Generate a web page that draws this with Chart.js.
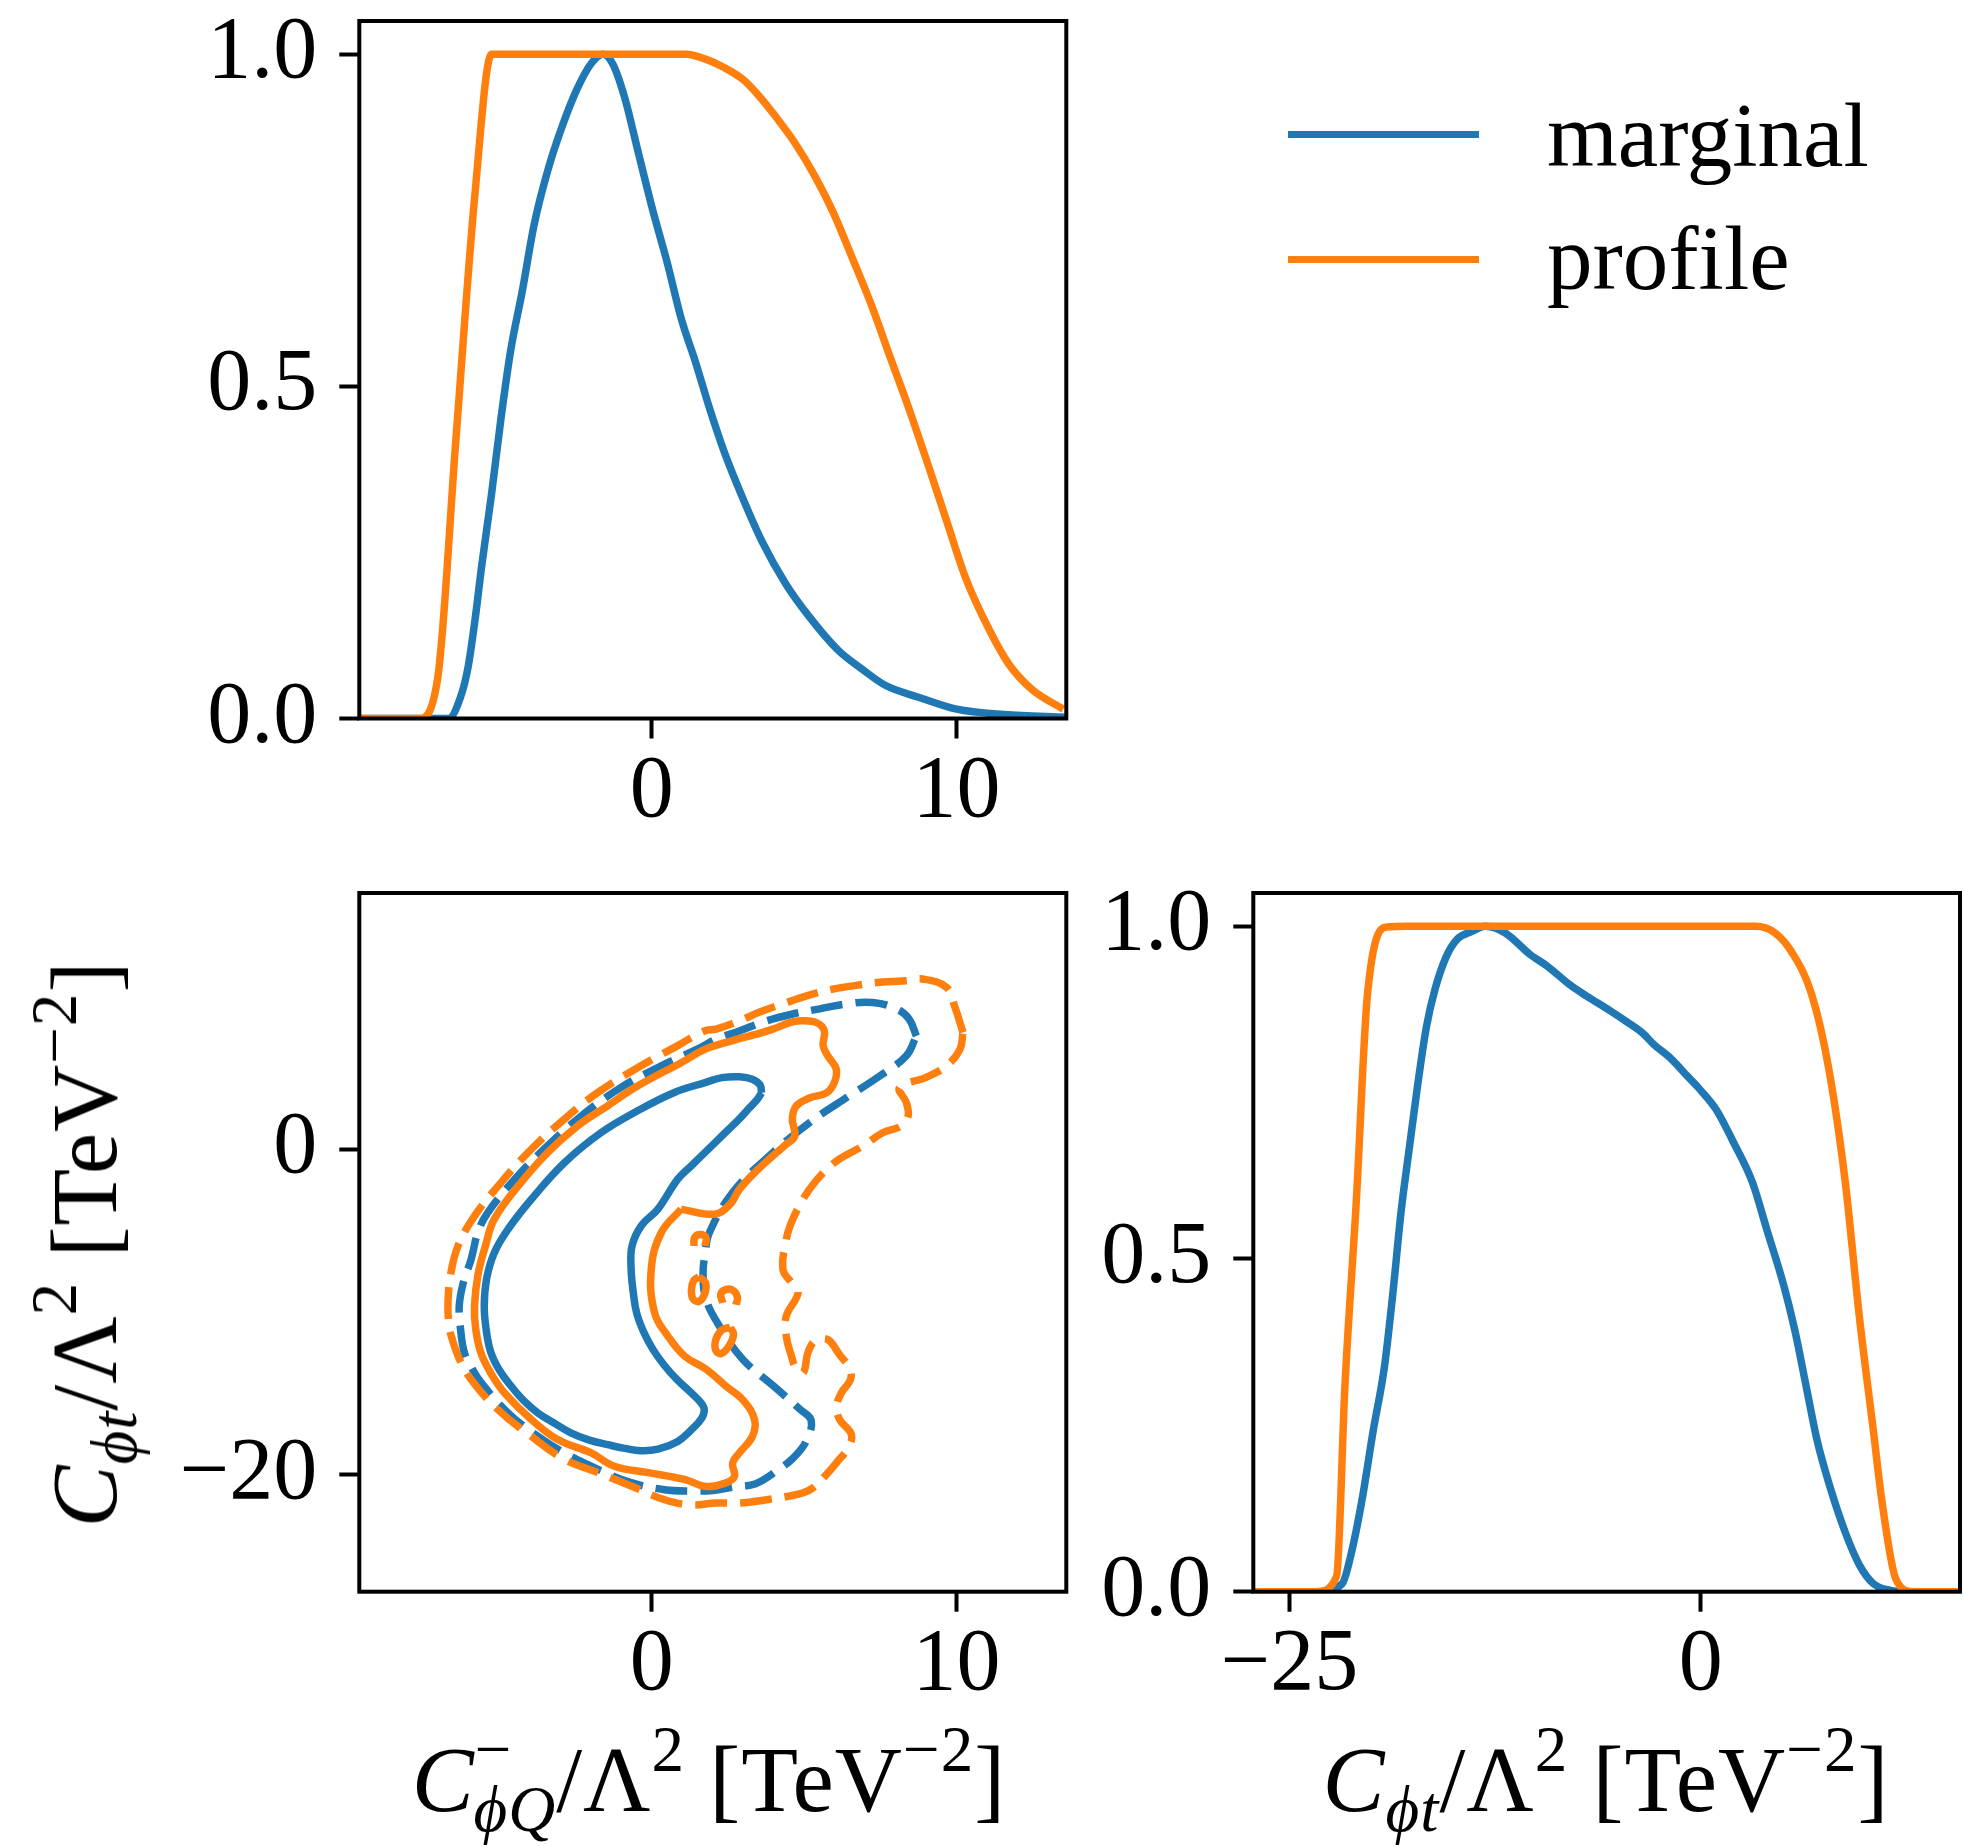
<!DOCTYPE html>
<html>
<head>
<meta charset="utf-8">
<title>marginal vs profile</title>
<script src="https://cdn.jsdelivr.net/npm/chart.js@4.4.1/dist/chart.umd.min.js"></script>
<style>
  html, body { margin: 0; padding: 0; background: #fff; }
  body { width: 1964px; height: 1848px; position: relative; overflow: hidden;
         font-family: "Liberation Serif", "DejaVu Serif", serif; color: #000; }
  canvas { position: absolute; }
  .txt { position: absolute; font-size: 88px; line-height: 1; white-space: nowrap; }
  .ax { font-size: 93px; letter-spacing: 1px; }
  .leg { font-size: 91px; }
  .sub { font-size: 0.7em; position: relative; top: 0.3em; }
  .sup { font-size: 0.7em; position: relative; top: -0.62em; }
  .key { position: absolute; height: 7px; width: 191px; left: 1288px; }
</style>
</head>
<body>
<canvas id="top" width="1100" height="860" style="left:0;top:0"></canvas>
<canvas id="joint" width="1100" height="900" style="left:0;top:860px"></canvas>
<canvas id="side" width="864" height="900" style="left:1100px;top:860px"></canvas>

<div class="txt ax" style="left:709px;top:1733px;transform:translateX(-50%)"><i>C</i><span class="sup">−</span><span class="sub" style="margin-left:-0.6em"><i>ϕQ</i></span>/Λ<span class="sup">2</span> [TeV<span class="sup">−2</span>]</div>
<div class="txt ax" style="left:1606px;top:1733px;transform:translateX(-50%)"><i>C</i><span class="sub"><i>ϕt</i></span>/Λ<span class="sup">2</span> [TeV<span class="sup">−2</span>]</div>
<div class="txt ax" style="left:38px;top:1244px;transform-origin:0 0;transform:rotate(-90deg) translateX(-50%)"><i>C</i><span class="sub"><i>ϕt</i></span>/Λ<span class="sup">2</span> [TeV<span class="sup">−2</span>]</div>

<script>
// series
const seriesNames = ['marginal', 'profile'];
const seriesColors = ['#1f77b4', '#ff7f0e'];

// axis ranges and ticks
const phiQRange = [-9.6, 13.6];
const phitRange = [-27.2, 15.75];
const probRange = [0, 1.05];
const phiQTicks = [0, 10];
const phitTicks = [-25, 0];
const phitJointTicks = [-20, 0];
const probTicks = [0, 0.5, 1.0];

// 1D scan in C_phiQ
const phiQMargX = [-9.6, -6.67, -6.28, -6.04, -5.81, -5.58, -5.26, -4.95, -4.64, -4.25, -3.86, -3.39, -2.93, -2.46, -1.99, -1.60, -1.29, -0.90, -0.44, 0.03, 0.50, 0.97, 1.43, 1.90, 2.37, 2.99, 3.61, 4.39, 5.17, 6.11, 6.88, 7.66, 8.75, 10.0, 11.56, 13.6];
const phiQMargY = [0, 0, 0.032, 0.075, 0.146, 0.231, 0.338, 0.452, 0.552, 0.644, 0.744, 0.829, 0.893, 0.947, 0.986, 1.0, 0.986, 0.936, 0.851, 0.765, 0.687, 0.601, 0.537, 0.466, 0.402, 0.331, 0.267, 0.203, 0.153, 0.103, 0.075, 0.050, 0.032, 0.014, 0.006, 0.002];
const phiQProfX = [-9.6, -7.64, -7.03, -6.43, -5.81, -5.26, 1.12, 1.74, 2.37, 2.99, 3.46, 4.08, 4.70, 5.33, 5.95, 6.57, 7.20, 7.82, 8.44, 9.07, 9.69, 10.31, 11.09, 11.71, 12.49, 13.5];
const phiQProfY = [0, 0, 0.06, 0.42, 0.787, 1.0, 1.0, 0.993, 0.980, 0.962, 0.940, 0.905, 0.866, 0.818, 0.762, 0.694, 0.623, 0.544, 0.466, 0.381, 0.295, 0.210, 0.132, 0.082, 0.043, 0.014];

// 1D scan in C_phit
const phitMargX = [-27.2, -23.3, -21.80, -21.28, -20.60, -19.92, -19.23, -18.72, -18.21, -17.70, -17.18, -16.67, -16.16, -15.48, -14.79, -13.94, -13.09, -11.89, -10.35, -9.33, -7.96, -6.94, -5.57, -4.54, -3.52, -2.84, -1.81, -0.79, -0.10, 0.92, 1.95, 3.14, 4.00, 5.02, 5.71, 6.39, 7.07, 7.93, 8.78, 9.64, 10.49, 11.51, 12.5, 15.75];
const phitMargY = [0, 0, 0.012, 0.054, 0.137, 0.241, 0.338, 0.448, 0.573, 0.670, 0.767, 0.850, 0.905, 0.954, 0.981, 0.992, 1.0, 0.990, 0.957, 0.940, 0.912, 0.895, 0.874, 0.857, 0.839, 0.822, 0.801, 0.774, 0.756, 0.725, 0.677, 0.615, 0.545, 0.462, 0.393, 0.310, 0.227, 0.151, 0.089, 0.040, 0.012, 0.002, 0, 0];
const phitProfX = [-27.2, -23.33, -22.14, -21.63, -20.94, -20.26, -19.06, -17.87, 3.31, 4.51, 5.53, 6.73, 7.76, 8.78, 9.63, 10.49, 11.0, 11.85, 12.88, 15.75];
const phitProfY = [0, 0, 0.023, 0.310, 0.587, 0.898, 0.999, 1.0, 1.0, 0.990, 0.961, 0.898, 0.788, 0.615, 0.414, 0.241, 0.137, 0.019, 0, 0];

// 2D contours (C_phiQ, C_phit)
const margInner = [[3.60,3.46],[3.55,3.95],[3.30,4.30],[2.88,4.45],[2.30,4.40],[1.77,4.11],[0.74,3.49],[-0.47,2.36],[-1.66,1.03],[-2.87,-0.83],[-3.96,-3.09],[-4.72,-4.92],[-5.17,-6.36],[-5.42,-7.94],[-5.50,-9.63],[-5.43,-11.19],[-5.28,-12.51],[-5.00,-13.59],[-4.61,-14.58],[-4.22,-15.42],[-3.74,-16.21],[-3.21,-16.83],[-2.66,-17.43],[-2.05,-17.88],[-1.45,-18.16],[-0.89,-18.39],[-0.36,-18.53],[0.20,-18.44],[0.85,-17.96],[1.29,-17.26],[1.63,-16.55],[1.72,-15.99],[1.60,-15.56],[1.29,-14.97],[0.82,-14.15],[0.42,-13.31],[0.04,-12.32],[-0.26,-11.27],[-0.50,-10.06],[-0.61,-8.79],[-0.68,-7.38],[-0.65,-5.94],[-0.34,-4.69],[0.20,-3.68],[0.85,-1.84],[1.29,-1.03],[1.83,-0.04],[2.37,0.95],[2.84,1.80],[3.18,2.50],[3.46,3.07]];
const margOuter = [[8.68,6.96],[8.44,8.00],[8.03,8.63],[7.25,9.02],[6.41,8.94],[5.51,8.63],[4.62,8.31],[3.76,7.89],[2.87,7.27],[2.11,6.77],[1.61,6.26],[0.31,5.13],[-1.01,3.80],[-2.31,2.05],[-3.42,0.21],[-4.50,-1.85],[-5.39,-3.91],[-5.71,-5.12],[-5.93,-6.76],[-6.19,-8.22],[-6.32,-9.63],[-6.27,-11.19],[-6.15,-12.51],[-5.91,-13.45],[-5.60,-14.35],[-4.72,-16.21],[-3.74,-17.65],[-2.87,-18.67],[-1.77,-19.68],[-0.68,-20.50],[0.42,-20.93],[1.29,-21.01],[2.00,-20.98],[2.65,-20.78],[3.41,-20.56],[4.06,-19.82],[4.62,-19.01],[5.06,-17.97],[5.23,-16.69],[4.86,-15.99],[3.99,-14.55],[2.98,-12.91],[2.22,-10.88],[1.78,-9.24],[1.68,-7.66],[1.75,-6.39],[1.89,-5.12],[2.65,-2.66],[3.74,-0.60],[5.17,1.63],[6.49,3.29],[7.50,4.53],[8.35,5.75]];
const profInner = [[0.96,-3.68],[1.78,-3.99],[2.22,-3.91],[2.61,-3.29],[2.87,-2.47],[3.41,-1.37],[3.97,-0.41],[4.41,0.30],[4.69,0.81],[4.61,1.85],[4.73,2.64],[5.17,3.15],[5.73,3.46],[5.99,4.11],[6.05,4.93],[5.77,5.75],[5.62,6.37],[5.66,7.27],[5.40,7.78],[4.87,7.89],[4.52,7.78],[3.97,7.38],[3.43,7.07],[2.65,6.68],[1.78,6.17],[0.96,5.32],[-0.47,3.88],[-1.45,2.67],[-2.44,1.43],[-3.42,-0.21],[-4.39,-2.27],[-5.17,-4.30],[-5.46,-5.94],[-5.70,-7.66],[-5.82,-9.64],[-5.78,-11.05],[-5.61,-12.51],[-5.27,-13.81],[-4.84,-14.97],[-3.96,-16.61],[-3.09,-17.85],[-1.99,-18.67],[-1.23,-19.49],[-0.13,-19.88],[1.07,-20.30],[1.78,-20.73],[2.44,-20.50],[2.71,-20.11],[2.65,-19.29],[2.87,-18.67],[3.30,-17.65],[3.37,-16.61],[2.98,-15.39],[2.44,-14.58],[1.78,-13.53],[1.07,-12.71],[0.53,-11.50],[0.09,-10.06],[-0.02,-7.38],[0.31,-5.12]];
const profOuter = [[10.21,7.18],[9.93,8.82],[9.67,9.95],[8.89,10.46],[8.35,10.35],[7.48,10.26],[6.60,10.04],[5.94,9.84],[5.11,9.44],[4.30,8.94],[3.54,8.43],[2.87,7.89],[2.11,7.38],[1.72,7.27],[0.85,6.37],[-0.47,5.01],[-1.77,3.49],[-2.87,1.85],[-3.96,-0.01],[-4.95,-2.05],[-5.82,-4.11],[-6.36,-5.94],[-6.60,-7.66],[-6.69,-9.44],[-6.66,-10.77],[-6.58,-11.50],[-6.32,-12.88],[-5.93,-14.15],[-5.06,-15.99],[-3.96,-17.65],[-2.87,-19.06],[-1.77,-19.88],[-0.68,-20.70],[0.42,-21.55],[1.29,-21.86],[2.11,-21.75],[2.87,-21.75],[3.76,-21.55],[4.52,-21.32],[4.97,-21.12],[5.29,-20.81],[5.73,-19.99],[6.10,-19.18],[6.44,-18.36],[6.55,-17.54],[6.16,-16.61],[6.07,-15.79],[6.22,-14.97],[6.52,-14.15],[6.49,-13.45],[6.16,-12.63],[5.84,-11.79],[5.62,-11.64],[5.34,-11.79],[5.12,-12.51],[4.97,-13.73],[4.73,-13.45],[4.58,-12.71],[4.41,-11.50],[4.41,-10.26],[4.80,-8.82],[4.58,-8.20],[4.30,-7.38],[4.41,-5.55],[4.58,-4.50],[4.84,-3.49],[5.17,-2.47],[5.62,-1.45],[6.16,-0.60],[6.92,0.19],[7.59,1.03],[8.18,1.43],[8.41,2.05],[8.35,2.87],[8.13,3.80],[9.00,4.42],[9.67,5.13],[10.11,6.14]];
const profIslandA = [[1.55,-7.85],[1.76,-8.2],[1.74,-8.85],[1.55,-9.35],[1.35,-9.2],[1.30,-8.6],[1.38,-8.05]];
const profIslandB = [[2.57,-10.95],[2.68,-11.35],[2.57,-11.98],[2.30,-12.55],[2.10,-12.38],[2.10,-11.7],[2.30,-11.1]];
const profHookA = [[1.38,-5.95],[1.40,-5.45],[1.58,-5.25],[1.78,-5.45],[1.74,-5.95]];
const profHookB = [[2.33,-9.45],[2.26,-8.92],[2.44,-8.62],[2.68,-8.70],[2.81,-9.13],[2.76,-9.56]];

const axisFont = { family: 'Liberation Serif', size: 88, lineHeight: 1 };
const blue = seriesColors[0], orange = seriesColors[1];

function xy(xs, ys) { return xs.map((x, i) => ({ x: x, y: ys[i] })); }
function path(pts) { return pts.map(p => ({ x: p[0], y: p[1] })); }
function ring(pts) { return path(pts.concat([pts[0]])); }
const intFmt = v => String(v).replace('-', '\u2212');
const probFmt = v => Number(v).toFixed(1);

function axis(range, ticks, fmt, size, horizontal) {
  return {
    type: 'linear', min: range[0], max: range[1],
    afterBuildTicks: s => { s.ticks = ticks.map(v => ({ value: v })); },
    afterFit: s => {
      if (horizontal) s.height = size; else s.width = size;
      // keep the plot box where it is, labels may hang over the edges
      s.paddingTop = 0; s.paddingBottom = 0; s.paddingLeft = 0; s.paddingRight = 0;
    },
    grid: { drawOnChartArea: false, drawTicks: true, tickLength: 20, tickWidth: 4, tickColor: '#000', color: '#000' },
    border: { display: false },
    ticks: { color: '#000', font: axisFont, padding: horizontal ? 10 : 22, autoSkip: false,
             maxRotation: 0, minRotation: 0, callback: v => fmt(v) }
  };
}

function line(data, color, dashed, mono) {
  return {
    data: data, borderColor: color, borderWidth: 7.5, showLine: true, fill: false,
    pointRadius: 0, pointHoverRadius: 0,
    borderDash: dashed ? [32, 13] : [],
    tension: mono ? 0 : 0.4,
    cubicInterpolationMode: mono ? 'monotone' : 'default',
    borderCapStyle: 'butt', borderJoinStyle: 'round'
  };
}

const frame = {
  id: 'frame',
  afterDraw(chart) {
    const a = chart.chartArea, ctx = chart.ctx;
    ctx.save();
    ctx.strokeStyle = '#000';
    ctx.lineWidth = 4;
    ctx.strokeRect(a.left, a.top, a.right - a.left, a.bottom - a.top);
    ctx.restore();
  }
};

function panel(id, datasets, xAx, yAx, pad) {
  return new Chart(document.getElementById(id), {
    type: 'scatter',
    data: { datasets: datasets },
    options: {
      responsive: false, animation: false, devicePixelRatio: 1, events: [],
      layout: { padding: pad },
      plugins: { legend: { display: false }, tooltip: { enabled: false } },
      scales: { x: xAx, y: yAx }
    },
    plugins: [frame]
  });
}

// top-left: C_phiQ 1D
panel('top', [
  line(xy(phiQProfX, phiQProfY), orange, false, true),
  line(xy(phiQMargX, phiQMargY), blue, false, true)
], axis(phiQRange, phiQTicks, intFmt, 141.5, true),
   axis(probRange, probTicks, probFmt, 359.3, false),
   { left: 0, top: 21, right: 33.7, bottom: 0 });

// bottom-left: joint contours
panel('joint', [
  line(ring(profInner), orange, false, false),
  line(ring(profIslandA), orange, false, false),
  line(ring(profIslandB), orange, false, false),
  line(path(profHookA), orange, false, false),
  line(path(profHookB), orange, false, false),
  line(ring(profOuter), orange, true, false),
  line(ring(margInner), blue, false, false),
  line(ring(margOuter), blue, true, false)
], axis(phiQRange, phiQTicks, intFmt, 168.3, true),
   axis(phitRange, phitJointTicks, intFmt, 359.3, false),
   { left: 0, top: 33, right: 33.7, bottom: 0 });

// bottom-right: C_phit 1D
panel('side', [
  line(xy(phitProfX, phitProfY), orange, false, true),
  line(xy(phitMargX, phitMargY), blue, false, true)
], axis(phitRange, phitTicks, intFmt, 168.3, true),
   axis(probRange, probTicks, probFmt, 153.3, false),
   { left: 0, top: 33, right: 4, bottom: 0 });

// legend
const rowLine = [130.5, 255.5], rowText = [90, 213];
seriesNames.forEach((name, i) => {
  const k = document.createElement('div');
  k.className = 'key';
  k.style.top = rowLine[i] + 'px';
  k.style.background = seriesColors[i];
  document.body.appendChild(k);
  const t = document.createElement('div');
  t.className = 'txt leg';
  t.style.left = '1547px';
  t.style.top = rowText[i] + 'px';
  t.textContent = name;
  document.body.appendChild(t);
});
</script>
</body>
</html>
